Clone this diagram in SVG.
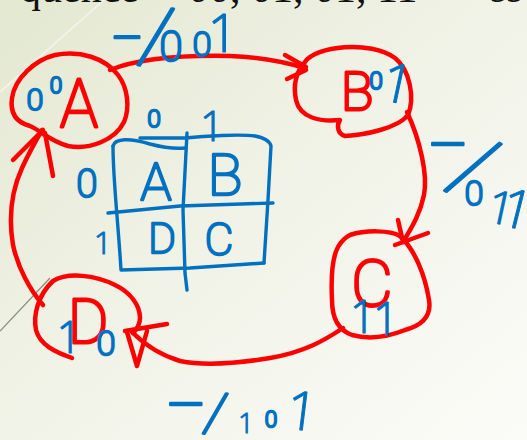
<svg xmlns="http://www.w3.org/2000/svg" width="527" height="440" viewBox="0 0 527 440">
  <defs>
    <linearGradient id="paper" x1="0" y1="0" x2="1" y2="1">
      <stop offset="0" stop-color="#e3e8d0"/>
      <stop offset="0.45" stop-color="#f0f2e6"/>
      <stop offset="1" stop-color="#fbfcf8"/>
    </linearGradient>
    <style>
      .pen { fill: none; stroke-linecap: round; stroke-linejoin: round; }
      .r { stroke: #ff0000; stroke-width: 4.5; }
      .b { stroke: #0070c0; stroke-width: 3.4; }
      .hw { font-family: Roboto, Lato, "Liberation Sans", sans-serif; font-weight: 100; stroke-linejoin: round; stroke-linecap: round; text-anchor: middle; }
      .hr { fill: #ff0000; stroke: #ff0000; stroke-width: 3; }
      .hb { fill: #0070c0; stroke: #0070c0; stroke-width: 2.6; }
      .one { font-family: "Open Sans", "Liberation Sans", sans-serif; font-weight: 300; stroke-width: 1; }
      .print { font-family: "Liberation Serif", serif; font-size: 42px; fill: #111; }
    </style>
  </defs>

  <!-- slide background -->
  <rect width="527" height="440" fill="url(#paper)"/>
  <path d="M104,0 L0,92" stroke="#ffffff" stroke-opacity="0.55" stroke-width="1.5" fill="none"/>
  <path d="M0,331 L50,278" stroke="#8a8a7c" stroke-width="1.2" fill="none"/>

  <!-- printed heading, mostly above the visible area -->
  <text class="print" x="20" y="2">quence<tspan x="188">00, 01, 01, 11</tspan><tspan x="490">ss</tspan></text>

  <!-- state A -->
  <g id="node-A">
    <path class="pen r" d="M118,75 C105,58 80,50 55,55 C35,60 15,78 12,98 C10,112 15,122 30,126 C40,130 48,140 68,146 C90,150 115,140 124,122 C130,108 128,88 118,75"/>
    <text class="hw hr" x="79" y="127" font-size="66" textLength="38" lengthAdjust="spacingAndGlyphs">A</text>
    <text class="hw hb"><tspan x="35" y="110" font-size="30">0</tspan><tspan x="56" y="93" font-size="22">0</tspan></text>
  </g>

  <!-- state B -->
  <g id="node-B">
    <path class="pen r" d="M305,62 C315,46 370,40 395,58 C410,70 415,98 408,115 C398,128 365,135 345,136 C338,134 336,126 340,120 C320,122 300,118 296,100 C293,85 296,72 305,62"/>
    <text class="hw hr" x="357" y="110" font-size="54">B</text>
    <text class="hw hb"><tspan x="376" y="89" font-size="24">0</tspan><tspan class="one" x="394" y="99" font-size="54" rotate="12">1</tspan></text>
  </g>

  <!-- state C -->
  <g id="node-C">
    <path class="pen r" d="M350,235 C365,230 390,230 400,236 C415,250 425,275 429,300 C432,318 420,326 405,330 C390,336 370,340 352,335 C338,330 332,318 332,300 C331,280 332,258 338,247 C342,240 346,237 350,235"/>
    <text class="hw hr" x="372" y="306" font-size="64">C</text>
    <text class="hw hb one" font-size="46"><tspan x="363" y="333">1</tspan><tspan x="386" y="335">1</tspan></text>
  </g>

  <!-- state D -->
  <g id="node-D">
    <path class="pen r" d="M72,358 C55,352 40,345 36,330 C33,315 38,295 53,281 C68,272 95,275 115,285 C130,292 140,305 140,318 C140,325 136,330 133,333"/>
    <text class="hw hr" x="88" y="343" font-size="62">D</text>
    <text class="hw hb"><tspan class="one" x="69" y="353" font-size="44">1</tspan><tspan x="106" y="355" font-size="34">0</tspan></text>
  </g>

  <!-- K-map sketch -->
  <g id="kmap">
    <path class="pen b" d="M113,146 C115,138 130,138 150,144 C165,148 175,149 185,148"/>
    <path class="pen b" d="M140,138 L185,138 C205,136 240,134 255,136 C265,138 270,142 271,146 L268,200 L264,263"/>
    <path class="pen b" d="M113,146 C113,180 118,220 121,270 L190,268 L264,263"/>
    <path class="pen b" d="M187,133 L183,210 L185,273 L187,290"/>
    <path class="pen b" d="M108,213 L180,206 L273,203"/>
    <text class="hw hb" x="154" y="127" font-size="24">0</text>
    <text class="hw hb one" x="212" y="141" font-size="42">1</text>
    <text class="hw hb" x="87" y="197" font-size="38">0</text>
    <text class="hw hb one" x="103" y="254" font-size="32">1</text>
    <text class="hw hb" x="156" y="200" font-size="52">A</text>
    <text class="hw hb" x="225" y="195" font-size="58">B</text>
    <text class="hw hb" x="162" y="253" font-size="42">D</text>
    <text class="hw hb" x="219" y="255" font-size="44">C</text>
  </g>

  <!-- transitions -->
  <g id="connectors">
    <!-- A to B -->
    <path class="pen r" d="M110,70 C140,58 180,55 230,56 C260,57 285,62 305,68"/>
    <path class="pen r" d="M285,55 L306,67 M287,79 L306,70"/>
    <!-- B to C -->
    <path class="pen r" d="M407,112 C420,140 428,175 424,195 C420,215 410,230 403,242"/>
    <path class="pen r" d="M398,220 L403,242 M428,233 L395,245"/>
    <!-- C to D -->
    <path class="pen r" d="M343,328 C325,340 305,352 270,358 C240,363 205,366 180,361 C160,355 145,345 132,332"/>
    <path class="pen r" d="M125,331 L167,324 M127,332 L137,366 L147,331"/>
    <!-- D to A -->
    <path class="pen r" d="M43,305 C30,290 18,268 13,245 C8,215 12,190 22,168 C28,155 35,142 42,130"/>
    <path class="pen r" d="M13,160 L43,130 M45,133 L53,176"/>
  </g>

  <!-- transition labels -->
  <g id="labels">
    <text class="hw hb"><tspan x="127" y="59" font-size="60">−</tspan><tspan x="152" y="60" font-size="80" rotate="10">/</tspan><tspan x="171" y="61" font-size="42">0</tspan><tspan x="202" y="56" font-size="34">0</tspan><tspan class="one" x="223" y="52" font-size="54">1</tspan></text>
    <text class="hw hb"><tspan x="448" y="172" font-size="76">−</tspan><tspan x="462" y="185" font-size="88" rotate="28">/</tspan><tspan x="474" y="205" font-size="34">0</tspan><tspan class="one" x="498" y="221" font-size="46" rotate="12">1</tspan><tspan class="one" x="513" y="224" font-size="54" rotate="14">1</tspan></text>
    <text class="hw hb"><tspan x="186" y="432" font-size="76">−</tspan><tspan x="213" y="430" font-size="56" rotate="9">/</tspan><tspan class="one" x="246" y="433" font-size="28">1</tspan><tspan x="271" y="427" font-size="22">0</tspan><tspan class="one" x="300" y="428" font-size="54" rotate="7">1</tspan></text>
  </g>
</svg>
